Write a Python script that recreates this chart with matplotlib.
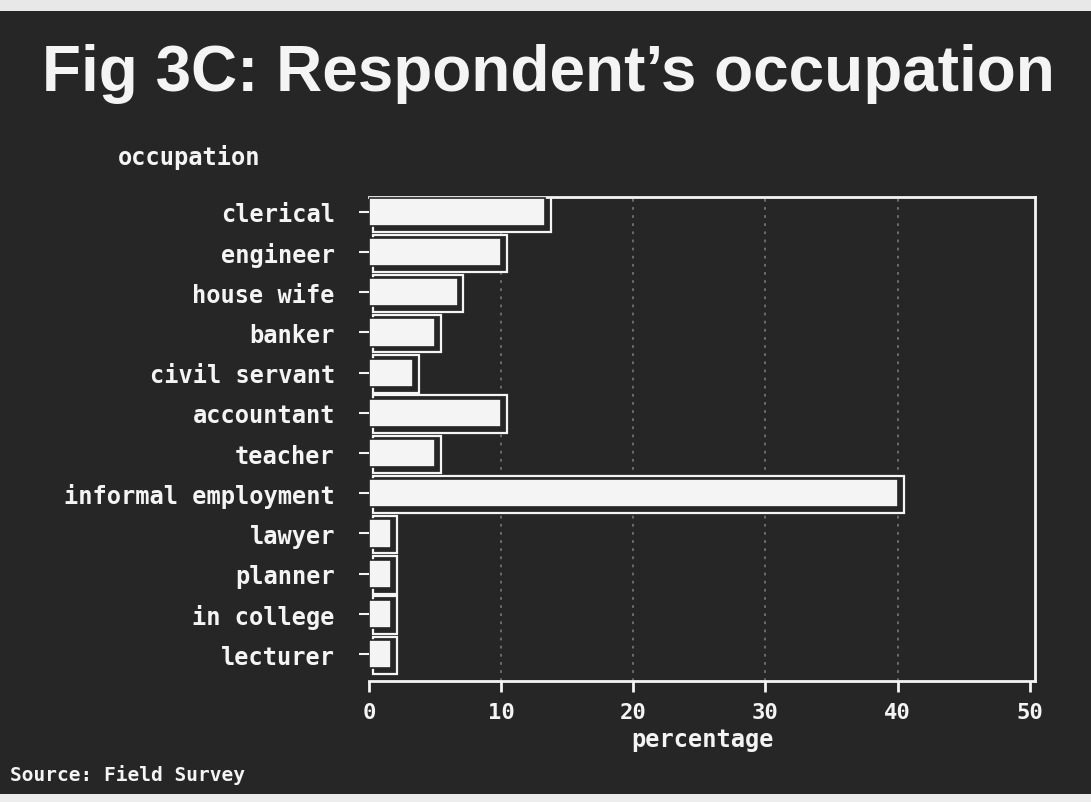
import matplotlib.pyplot as plt
from matplotlib.patches import Rectangle

# data (percent of respondents)
occupations = [
    "clerical", "engineer", "house wife", "banker", "civil servant",
    "accountant", "teacher", "informal employment", "lawyer", "planner",
    "in college", "lecturer",
]
percentages = [13.3, 10.0, 6.7, 5.0, 3.3, 10.0, 5.0, 40.0, 1.7, 1.7, 1.7, 1.7]
x_ticks = [0, 10, 20, 30, 40, 50]

BG = "#262626"
FG = "#f4f4f4"
MONO = ["DejaVu Sans Mono"]

W, H = 1091, 803
fig = plt.figure(figsize=(W / 100, H / 100), dpi=100, facecolor=BG)

# scan edges
fig.patches.append(Rectangle((0, 1 - 12 / H), 1, 12 / H, transform=fig.transFigure,
                             facecolor="#e8e8e8", edgecolor="none"))
fig.patches.append(Rectangle((0, 0), 1, 8 / H, transform=fig.transFigure,
                             facecolor="#ededed", edgecolor="none"))

ax = fig.add_axes([369 / W, 1 - 682 / H, (1035 - 369) / W, (682 - 198) / H])
ax.set_facecolor(BG)

pos = list(range(len(occupations)))

# back outline of the pseudo-3D bars
ax.barh([p + 0.03 for p in pos], [v + 0.15 for v in percentages], left=0.3,
        height=0.93, facecolor=BG, edgecolor=FG, linewidth=1.6, zorder=2)
# front face
ax.barh(pos, percentages, height=0.7, facecolor=FG, edgecolor=BG,
        linewidth=1.2, zorder=3)

ax.set_xlim(0, 50.4)
ax.set_ylim(11.67, -0.37)

for x in x_ticks[1:-1]:
    ax.axvline(x, color="#bdbdbd", linestyle=(0, (1.5, 3)), linewidth=1.3,
               alpha=0.5, zorder=1)

for side in ["top", "right", "bottom"]:
    ax.spines[side].set_color(FG)
    ax.spines[side].set_linewidth(2)
ax.spines["left"].set_visible(False)

ax.set_xticks(x_ticks)
ax.set_xticklabels([str(t) for t in x_ticks], family=MONO, fontweight="bold",
                   fontsize=16, color=FG)
ax.tick_params(axis="x", colors=FG, length=8, width=2, direction="out", pad=7)

ax.set_yticks(pos)
ax.set_yticklabels(occupations, family=MONO, fontweight="bold", fontsize=17,
                   color=FG)
ax.tick_params(axis="y", colors=FG, length=7.5, width=1.5, direction="out", pad=17)

ax.set_xlabel("percentage", family=MONO, fontweight="bold", fontsize=17,
              color=FG, labelpad=4)

fig.text(118 / W, 1 - 158 / H, "occupation", family=MONO, fontweight="bold",
         fontsize=17, color=FG, ha="left", va="center")

fig.text(548 / W, 1 - 74 / H, "Fig 3C: Respondent\u2019s occupation",
         family=["Liberation Sans"], fontweight="bold", fontsize=46, color=FG,
         ha="center", va="center")

fig.text(10 / W, 1 - 775 / H, "Source: Field Survey", family=MONO,
         fontweight="bold", fontsize=14, color=FG, ha="left", va="center")

fig.savefig("out.png", dpi=100, facecolor=BG)
